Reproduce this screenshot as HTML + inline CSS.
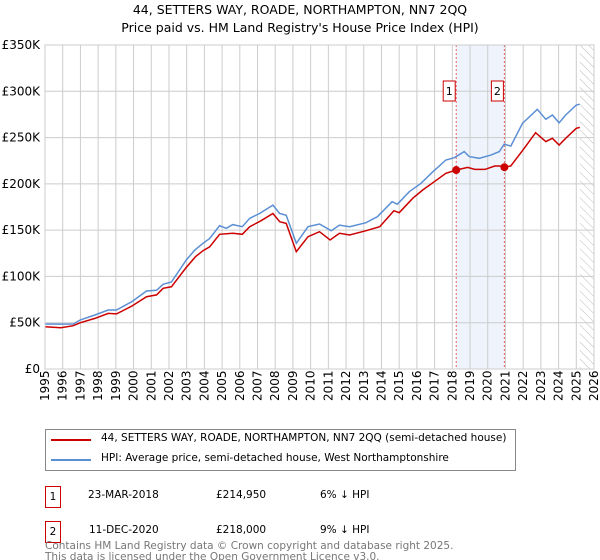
<!DOCTYPE html>
<html><head><meta charset="utf-8"><style>
body{margin:0;background:#fff;font-family:"DejaVu Sans","Liberation Sans",sans-serif;}
#wrap{position:relative;width:600px;height:560px;overflow:hidden;}
.t{position:absolute;font-size:11px;color:#000;white-space:nowrap;}
</style></head><body>
<div id="wrap">
<svg id="svg" width="600" height="560" style="position:absolute;left:0;top:0">
<defs><pattern id="hatch" width="6" height="6" patternUnits="userSpaceOnUse" patternTransform="rotate(-45)"><line x1="0" y1="0" x2="0" y2="6" stroke="#bbb" stroke-width="1"/></pattern></defs>
<text x="300" y="14" text-anchor="middle" font-size="12.5">44, SETTERS WAY, ROADE, NORTHAMPTON, NN7 2QQ</text>
<text x="300" y="32" text-anchor="middle" font-size="12.5">Price paid vs. HM Land Registry's House Price Index (HPI)</text>
<g id="plot"></g>
</svg>
<div style="position:absolute;left:45px;top:429px;width:471px;height:42px;border:1px solid #888;box-sizing:border-box;">
<div style="position:absolute;left:5px;top:9px;width:40px;height:2px;background:#cc0000"></div>
<div class="t" style="left:55px;top:2px;font-size:10.5px">44, SETTERS WAY, ROADE, NORTHAMPTON, NN7 2QQ (semi-detached house)</div>
<div style="position:absolute;left:5px;top:29px;width:40px;height:2px;background:#5b8fd4"></div>
<div class="t" style="left:55px;top:22px;font-size:10.5px">HPI: Average price, semi-detached house, West Northamptonshire</div>
</div>
<div>
<div class="t" style="left:45px;top:486px;width:14px;height:20px;border:1px solid #cc0000;text-align:center;line-height:20px;font-size:10.5px">1</div>
<div class="t" style="left:88px;top:489px;font-size:10.5px">23-MAR-2018</div>
<div class="t" style="left:216px;top:489px;font-size:10.5px">£214,950</div>
<div class="t" style="left:320px;top:489px;font-size:10.5px">6% ↓ HPI</div>
</div>
<div>
<div class="t" style="left:45px;top:521px;width:14px;height:20px;border:1px solid #cc0000;text-align:center;line-height:20px;font-size:10.5px">2</div>
<div class="t" style="left:89px;top:524px;font-size:10.5px">11-DEC-2020</div>
<div class="t" style="left:216px;top:524px;font-size:10.5px">£218,000</div>
<div class="t" style="left:320px;top:524px;font-size:10.5px">9% ↓ HPI</div>
</div>
<div class="t" style="left:45px;top:541px;font-size:10.5px;color:#777;line-height:11px">Contains HM Land Registry data © Crown copyright and database right 2025.<br>This data is licensed under the Open Government Licence v3.0.</div>
</div>
<script>
const hpiYears=[1995,1995.85,1996.6,1997.0,1997.82,1998.57,1999.04,1999.9,2000.73,2001.3,2001.67,2002.14,2002.98,2003.46,2003.92,2004.3,2004.86,2005.24,2005.6,2006.14,2006.56,2007.12,2007.87,2008.25,2008.62,2009.19,2009.85,2010.5,2011.16,2011.63,2012.2,2013.13,2013.77,2014.6,2014.9,2015.57,2016.23,2016.9,2017.64,2018.11,2018.67,2018.96,2019.52,2020.18,2020.65,2020.93,2021.3,2021.96,2022.8,2023.28,2023.65,2024.03,2024.4,2025.0,2025.2];
const hpiValues=[48.6,48.5,48.6,53,58.3,63.7,63.7,72.7,84.3,85,91.5,94,117.7,128.5,135.8,141,154.8,152,156,153.7,162.8,168,177,168,166,135.8,153.7,156.6,149.4,155.5,153.7,158,164.5,180.7,178,191.5,200.6,213,225.8,228.3,234.8,229.4,227.6,231.1,234.8,243,240.8,265.4,280.5,269.7,274.4,266,274.4,285.2,286];
const redYears=[1995,1995.9,1996.6,1997.0,1997.82,1998.57,1999.04,1999.9,2000.73,2001.3,2001.67,2002.14,2002.98,2003.5,2003.92,2004.3,2004.86,2005.6,2006.14,2006.56,2007.2,2007.87,2008.25,2008.62,2009.19,2009.85,2010.5,2011.1,2011.63,2012.2,2013.13,2013.9,2014.7,2015.0,2015.76,2016.33,2016.98,2017.64,2018.22,2018.87,2019.27,2019.84,2020.4,2020.7,2020.94,2021.3,2022.06,2022.7,2023.28,2023.65,2024.03,2024.4,2025.0,2025.2];
const redValues=[45.7,44.6,46.8,50,54.7,60.1,59.5,68,78.1,80,87.2,88.8,109.8,121.3,127.8,132,145.5,146.6,145.5,153.7,160.2,168,159.1,157.3,126.7,142.9,148.3,139.4,146.6,144.8,149.4,153.7,171,168.8,184.4,193.4,202.3,211.4,214.95,217.8,215.6,215.6,219.3,219.3,218,219.3,238.4,255.3,245.6,249.2,242,249.2,260,261];
const saleYears=[2018.22,2020.94];
const saleValues=[214.95,218];
const saleLabels=["1","2"];
const yTicks=[0,50,100,150,200,250,300,350];
const yTickLabels=["£0","£50K","£100K","£150K","£200K","£250K","£300K","£350K"];
const NS="http://www.w3.org/2000/svg";
const L=45,R=594,T=45,B=369,X0=1995,X1=2026,YMAX=350;
const xs=v=>L+(v-X0)/(X1-X0)*(R-L);
const ys=v=>B-v/YMAX*(B-T);
const g=document.getElementById('plot');
function mk(tag,a){const e=document.createElementNS(NS,tag);for(const k in a)e.setAttribute(k,a[k]);g.appendChild(e);return e;}
let e;
e=mk('rect',{x:xs(saleYears[0]),y:T,width:xs(saleYears[1])-xs(saleYears[0]),height:B-T,fill:'#eef3fc'});


e=mk('rect',{x:xs(2025.2),y:T,width:R-xs(2025.2),height:B-T,fill:'url(#hatch)'});


for(let y=X0;y<=X1;y++){
 e=mk('line',{x1:xs(y),x2:xs(y),y1:T,y2:B,stroke:'#cccccc','stroke-width':1});
 
 
 const tx=xs(y)+4, ty=B+32;
 e=mk('text',{x:tx,y:ty,'font-size':12,transform:`rotate(-90 ${tx} ${ty})`});
 e.textContent=String(y);
 
 
}
yTicks.forEach((v,i)=>{
 e=mk('line',{x1:L,x2:R,y1:ys(v),y2:ys(v),stroke:'#cccccc','stroke-width':1});
 
 
 e=mk('text',{x:L-5,y:ys(v)+4,'text-anchor':'end','font-size':12});
 e.textContent=yTickLabels[i];
 
 
});
saleYears.forEach((s,i)=>{
 e=mk('line',{x1:xs(s),x2:xs(s),y1:T,y2:B,stroke:'#e06060','stroke-width':1,'stroke-dasharray':'2,2'});
 
 
});
function path(xsArr,vals,col,name){
 const d=xsArr.map((x,i)=>(i?'L':'M')+xs(x).toFixed(1)+','+ys(vals[i]).toFixed(1)).join('');
 const p=mk('path',{d:d,fill:'none',stroke:col,'stroke-width':1.5});
 
 
}
path(hpiYears,hpiValues,'#5b8fd4','hpi-line');
path(redYears,redValues,'#cc0000','price-paid-line');
saleYears.forEach((s,i)=>{
 e=mk('circle',{cx:xs(s),cy:ys(saleValues[i]),r:4,fill:'#cc0000'});
 
 
 const bx=xs(s)-13;
 e=mk('rect',{x:bx,y:81,width:12,height:20,fill:'#fff',stroke:'#cc0000'});
 
 
 e=mk('text',{x:bx+6,y:95,'text-anchor':'middle','font-size':11});
 e.textContent=saleLabels[i];
 
 
});
e=mk('rect',{x:L,y:T,width:R-L,height:B-T,fill:'none',stroke:'#cccccc'});


</script>
</body></html>
